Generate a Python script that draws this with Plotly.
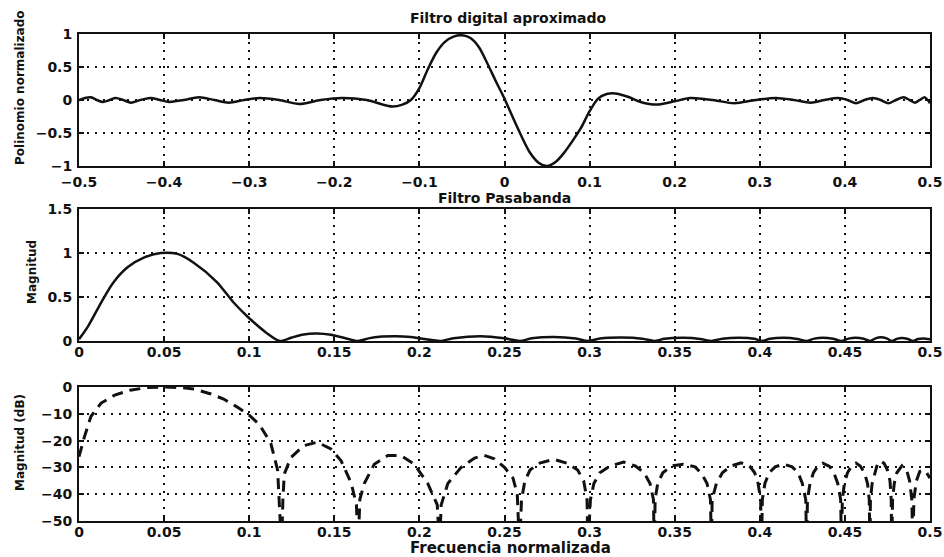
import plotly.graph_objects as go

# ---------------- data ----------------
# Panel 1: normalised approximating polynomial (impulse shape)
poly_x = [-0.500, -0.493, -0.486, -0.479, -0.472, -0.464, -0.457, -0.448, -0.439, -0.428,
          -0.416, -0.405, -0.394, -0.377, -0.359, -0.341, -0.324, -0.306, -0.288, -0.265,
          -0.241, -0.216, -0.191, -0.162, -0.132, -0.120, -0.110, -0.100, -0.090, -0.080,
          -0.070, -0.060, -0.050, -0.040, -0.030, -0.020, -0.010, 0.000, 0.010, 0.020,
          0.030, 0.040, 0.050, 0.060, 0.070, 0.080, 0.090, 0.100, 0.110, 0.120,
          0.130, 0.145, 0.160, 0.179, 0.200, 0.218, 0.245, 0.270, 0.295, 0.319,
          0.340, 0.360, 0.376, 0.392, 0.403, 0.413, 0.423, 0.433, 0.442, 0.451,
          0.460, 0.469, 0.476, 0.482, 0.488, 0.494, 0.500]
poly_y = [0.00, 0.03, 0.04, 0.00, -0.03, 0.00, 0.03, 0.00, -0.04, 0.00,
          0.03, 0.00, -0.03, 0.00, 0.04, 0.00, -0.04, 0.00, 0.03, 0.00,
          -0.06, 0.00, 0.03, 0.00, -0.10, -0.07, 0.00, 0.18, 0.47, 0.72,
          0.88, 0.96, 0.98, 0.94, 0.80, 0.55, 0.28, 0.02, -0.27, -0.55,
          -0.80, -0.95, -1.00, -0.94, -0.80, -0.62, -0.42, -0.17, 0.02, 0.09,
          0.10, 0.05, -0.03, -0.07, -0.02, 0.03, 0.00, -0.05, 0.00, 0.03,
          0.00, -0.04, 0.00, 0.03, 0.00, -0.05, 0.00, 0.03, 0.00, -0.05,
          0.00, 0.04, 0.00, -0.04, 0.00, 0.04, -0.05]

# Panel 2: band-pass magnitude (linear)
mag_f = [0.000, 0.0054, 0.0131, 0.020, 0.0287, 0.0384, 0.048, 0.0578, 0.0674, 0.081,
         0.0907, 0.0994, 0.110, 0.118,
         0.125, 0.132, 0.140, 0.148, 0.155, 0.164,
         0.170, 0.178, 0.186, 0.195, 0.204, 0.212,
         0.220, 0.236, 0.250, 0.259,
         0.266, 0.279, 0.292, 0.299,
         0.306, 0.319, 0.331, 0.338,
         0.344, 0.355, 0.365, 0.3716,
         0.378, 0.388, 0.397, 0.401,
         0.406, 0.414, 0.422, 0.4275,
         0.432, 0.437, 0.443, 0.448,
         0.452, 0.4565, 0.461, 0.4647,
         0.468, 0.471, 0.4745, 0.4775,
         0.4805, 0.4835, 0.487, 0.490,
         0.493, 0.496, 0.500]
mag_v = [0.02, 0.17, 0.44, 0.66, 0.84, 0.95, 1.00, 0.99, 0.89, 0.67,
         0.44, 0.27, 0.095, 0.00,
         0.04, 0.075, 0.085, 0.07, 0.04, 0.00,
         0.03, 0.05, 0.055, 0.045, 0.02, 0.00,
         0.03, 0.053, 0.03, 0.00,
         0.03, 0.045, 0.028, 0.00,
         0.028, 0.04, 0.026, 0.00,
         0.025, 0.036, 0.024, 0.00,
         0.026, 0.038, 0.025, 0.00,
         0.025, 0.036, 0.024, 0.00,
         0.027, 0.038, 0.026, 0.00,
         0.027, 0.038, 0.026, 0.00,
         0.03, 0.042, 0.03, 0.00,
         0.024, 0.034, 0.022, 0.00,
         0.022, 0.028, 0.02]

# Panel 3: band-pass magnitude in dB
db_f = [0.000, 0.003, 0.007, 0.013, 0.021, 0.030, 0.040, 0.050, 0.060, 0.068,
        0.077, 0.085, 0.093, 0.100, 0.106, 0.1127, 0.1167, 0.1186, 0.119,
        0.1198, 0.1206, 0.1245, 0.132, 0.140, 0.148, 0.154, 0.160, 0.1630, 0.164,
        0.1650, 0.1676, 0.1735, 0.1814, 0.1892, 0.197, 0.2049, 0.2105, 0.2118,
        0.2128, 0.2167, 0.2245, 0.2324, 0.238, 0.244, 0.250, 0.255, 0.2575, 0.2588,
        0.260, 0.262, 0.265, 0.270, 0.279, 0.287, 0.293, 0.2965, 0.2985, 0.299,
        0.3005, 0.3025, 0.306, 0.312, 0.320, 0.327, 0.332, 0.3355, 0.3375, 0.338,
        0.3385, 0.340, 0.343, 0.348, 0.355, 0.362, 0.366, 0.369, 0.371, 0.3716,
        0.372, 0.3745, 0.378, 0.383, 0.389, 0.394, 0.397, 0.399, 0.4005, 0.401,
        0.4015, 0.403, 0.4055, 0.409, 0.414, 0.419, 0.4225, 0.425, 0.427, 0.4275,
        0.428, 0.4295, 0.4315, 0.434, 0.437, 0.441, 0.4435, 0.4458, 0.4475, 0.448,
        0.4485, 0.4497, 0.4515, 0.454, 0.4565, 0.459, 0.4615, 0.4633, 0.4643, 0.4647,
        0.465, 0.466, 0.4675, 0.469, 0.471, 0.473, 0.475, 0.4765, 0.4772, 0.4775,
        0.478, 0.479, 0.4805, 0.4835, 0.4865, 0.488, 0.4893, 0.490,
        0.4905, 0.492, 0.494, 0.496, 0.498, 0.500]
db_v = [-26, -19, -11, -6, -3, -1.2, -0.2, 0, -0.2, -0.8,
        -2.5, -4.5, -7.5, -10.5, -14, -21, -31, -47.5, -60,
        -42, -32.5, -26.3, -21.9, -20.6, -23.1, -27.5, -36, -44, -60,
        -42, -36, -28.8, -25.6, -25.6, -28.8, -36, -44, -60,
        -44, -36, -30, -26.5, -25.5, -26.8, -30, -34, -40, -60,
        -42, -35, -31, -28.5, -27, -28.5, -31, -35, -42, -60,
        -42, -36, -32, -29.5, -28, -29.5, -32, -36, -42, -60,
        -42, -36, -32, -29.5, -28.8, -29.8, -32.5, -36, -42, -60,
        -42, -36, -32, -29.5, -28.3, -29.5, -32, -36, -42, -60,
        -42, -36, -32, -29.8, -28.8, -29.8, -32, -36, -42, -60,
        -42, -36, -32, -29.6, -28.4, -29.6, -32, -36, -42, -60,
        -42, -36, -32, -29.5, -28.4, -29.5, -32, -36, -42, -60,
        -42, -36, -32, -29, -27.6, -28.5, -31, -35, -42, -60,
        -42, -36, -32, -29.4, -31.5, -35, -42, -60,
        -42, -35, -31.5, -31, -32, -34]

# Ticks
x1_ticks = [-0.5, -0.4, -0.3, -0.2, -0.1, 0, 0.1, 0.2, 0.3, 0.4, 0.5]
x1_labels = ["\u22120.5", "\u22120.4", "\u22120.3", "\u22120.2", "\u22120.1", "0",
             "0.1", "0.2", "0.3", "0.4", "0.5"]
y1_ticks = [-1, -0.5, 0, 0.5, 1]
y1_labels = ["\u22121", "\u22120.5", "0", "0.5", "1"]
f_ticks = [0, 0.05, 0.1, 0.15, 0.2, 0.25, 0.3, 0.35, 0.4, 0.45, 0.5]
f_labels = ["0", "0.05", "0.1", "0.15", "0.2", "0.25", "0.3", "0.35", "0.4", "0.45", "0.5"]
y2_ticks = [0, 0.5, 1, 1.5]
y2_labels = ["0", "0.5", "1", "1.5"]
y3_ticks = [-50, -40, -30, -20, -10, 0]
y3_labels = ["\u221250", "\u221240", "\u221230", "\u221220", "\u221210", "0"]

# ---------------- figure ----------------
W, H = 944, 557
INK = "#111111"
FONT = "DejaVu Sans"


def px_x(p):
    return p / W


def px_y(p):
    return 1 - p / H


x_dom = [px_x(79), px_x(930)]
dom1 = [px_y(166), px_y(34)]
dom2 = [px_y(341), px_y(209)]
dom3 = [px_y(521), px_y(387)]

axis_style = dict(
    showline=True, linecolor=INK, linewidth=2, mirror="ticks",
    ticks="inside", ticklen=5, tickwidth=1.5, tickcolor=INK,
    showgrid=True, gridcolor=INK, gridwidth=1.6, griddash="2px,6px",
    zeroline=False, automargin=False,
    tickfont=dict(family=FONT, size=14, color=INK, weight="bold"),
    tickmode="array",
)
xaxis_style = dict(axis_style, ticklabelstandoff=-3)
yaxis_style = dict(axis_style, ticklabelstandoff=2)

fig = go.Figure()
line_solid = dict(color=INK, width=2.5)

fig.add_trace(go.Scatter(x=poly_x, y=poly_y, mode="lines",
                         line=dict(line_solid, shape="spline", smoothing=0.8),
                         xaxis="x", yaxis="y", hoverinfo="skip"))
fig.add_trace(go.Scatter(x=mag_f, y=mag_v, mode="lines",
                         line=dict(line_solid, shape="spline", smoothing=0.8),
                         xaxis="x2", yaxis="y2", hoverinfo="skip"))
fig.add_trace(go.Scatter(x=db_f, y=db_v, mode="lines",
                         line=dict(color=INK, width=3, dash="11px,7px"),
                         xaxis="x3", yaxis="y3", hoverinfo="skip"))

fig.update_layout(
    width=W, height=H, margin=dict(l=0, r=0, t=0, b=0),
    paper_bgcolor="white", plot_bgcolor="white", showlegend=False,
    font=dict(family=FONT, size=13, color=INK),
    xaxis=dict(xaxis_style, domain=x_dom, anchor="y", range=[-0.5, 0.5],
               tickvals=x1_ticks, ticktext=x1_labels, ticklabelstandoff=2),
    yaxis=dict(yaxis_style, domain=dom1, anchor="x", range=[-1, 1],
               tickvals=y1_ticks, ticktext=y1_labels),
    xaxis2=dict(xaxis_style, domain=x_dom, anchor="y2", range=[0, 0.5],
                tickvals=f_ticks, ticktext=f_labels),
    yaxis2=dict(yaxis_style, domain=dom2, anchor="x2", range=[0, 1.5],
                tickvals=y2_ticks, ticktext=y2_labels),
    xaxis3=dict(xaxis_style, domain=x_dom, anchor="y3", range=[0, 0.5],
                tickvals=f_ticks, ticktext=f_labels),
    yaxis3=dict(yaxis_style, domain=dom3, anchor="x3", range=[-50, 0],
                tickvals=y3_ticks, ticktext=y3_labels),
)

title_font = dict(family=FONT, size=14, color=INK, weight="bold")
ylab_font = dict(family=FONT, size=12, color=INK, weight="bold")


def label(text, x, y, font, angle=0):
    fig.add_annotation(text=text, x=px_x(x), y=px_y(y), xref="paper", yref="paper",
                       showarrow=False, font=font, textangle=angle,
                       xanchor="center", yanchor="middle")


label("Filtro digital aproximado", 508, 18, title_font)
label("Filtro Pasabanda", 504, 198, title_font)
label("Frecuencia normalizada", 511, 548, dict(title_font, size=15))
label("Polinomio normalizado", 20, 88, ylab_font, -90)
label("Magnitud", 32, 272, ylab_font, -90)
label("Magnitud (dB)", 20, 443, ylab_font, -90)

fig.write_html("out.html")
